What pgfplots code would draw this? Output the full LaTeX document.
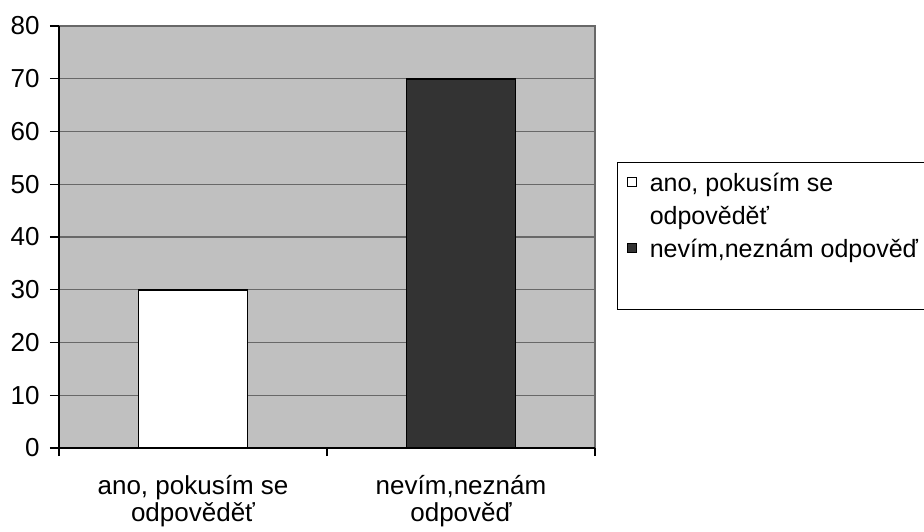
\documentclass[border=0pt]{standalone}
\usepackage{fontspec}
\setmainfont{Liberation Sans}
\usepackage{pgfplots}
\pgfplotsset{compat=1.18}
\definecolor{bggray}{HTML}{C0C0C0}
\definecolor{gridgray}{HTML}{686868}
\definecolor{darkbar}{HTML}{333333}
\begin{document}
\begin{tikzpicture}
\useasboundingbox (0,0) rectangle (462pt,265.5pt);
\begin{axis}[
  at={(29.5pt,41.5pt)}, anchor=south west,
  scale only axis, width=268pt, height=211pt,
  xmin=-0.5, xmax=1.5, ymin=0, ymax=80,
  ytick={0,10,...,80},
  xtick={0,1},
  xticklabels={{ano, pokusím se\\odpověděť},{nevím,neznám\\odpověď}},
  minor xtick={-0.5,0.5,1.5},
  axis x line*=bottom, axis y line*=left,
  axis line style={black,-,line width=0.6pt},
  axis background/.style={fill=bggray, draw=gridgray, line width=0.6pt},
  ymajorgrids, major grid style={gridgray, line width=0.6pt},
  tick align=outside,
  major tick length=4.5pt, minor tick length=4pt,
  major x tick style={draw=none},
  minor x tick style={black, line width=0.6pt},
  major y tick style={black, line width=0.6pt},
  yticklabel style={font=\fontsize{13}{15}\selectfont, inner sep=0pt, xshift=-5pt},
  xticklabel style={font=\fontsize{13}{13.5}\selectfont, align=center, inner sep=0pt, yshift=-9pt},
  /pgf/number format/assume math mode=true,
  legend image code/.code={\draw[#1, line width=0.5pt] (0pt,2.4pt) rectangle (4.6pt,7pt);},
  legend style={at={(1.041,0.6777)}, anchor=north west, draw=black, line width=0.6pt, fill=white,
    font=\fontsize{12.5}{15.5}\selectfont, inner xsep=4.5pt, inner ysep=5pt,
    nodes={inner sep=0pt, text height=9.5pt, text depth=2.5pt}, row sep=4.5pt, column sep=6.5pt,
    cells={anchor=base west}},
]
\addplot[ybar, bar width=0.407, bar shift=0pt, fill=white, draw=black, line width=0.8pt] coordinates {(0,30)};
\addlegendentry{ano, pokusím se\hspace*{60pt}}
\addlegendimage{empty legend}
\addlegendentry{odpověděť}
\addplot[ybar, bar width=0.407, bar shift=0pt, fill=darkbar, draw=black, line width=0.8pt] coordinates {(1,70)};
\addlegendentry[text depth=21pt]{nevím,neznám odpověď}
\end{axis}
\end{tikzpicture}
\end{document}
